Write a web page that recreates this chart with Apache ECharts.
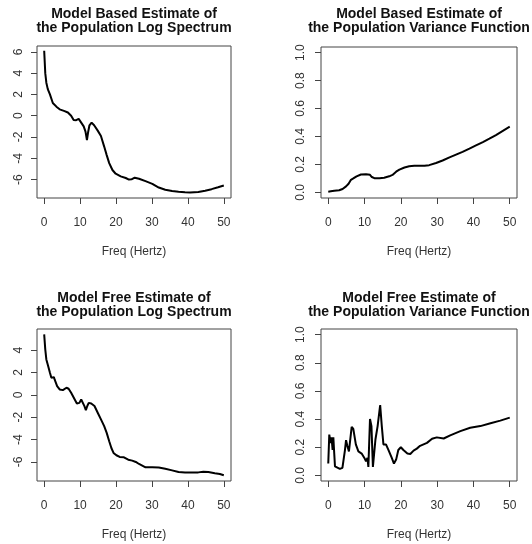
<!DOCTYPE html>
<html>
<head>
<meta charset="utf-8">
<script src="https://cdn.jsdelivr.net/npm/echarts@6/dist/echarts.min.js"></script>
<style>
  html, body { margin: 0; padding: 0; background: #fff; }
  #chart { width: 532px; height: 544px; }
</style>
</head>
<body>
<div id="chart"></div>
<script>
// 横轴刻度
const freqTicks = [0, 10, 20, 30, 40, 50]
const logTicks = [-6, -4, -2, 0, 2, 4, 6]
const varTicks = [0, 0.2, 0.4, 0.6, 0.8, 1.0]

// 左上：模型估计的对数谱
const freqModelLog = [0, 0.3, 0.6, 1.0, 1.6, 2.4, 3.4, 4.3, 5.5, 6.6, 7.5, 8.2, 8.9, 9.6, 10.3, 11.0, 11.5, 11.9, 12.2, 12.6, 13.2, 13.9, 14.9, 15.8, 16.7, 17.4, 18.1, 19.0, 19.9, 21.3, 22.7, 23.6, 24.3, 25.2, 26.4, 28.2, 30.1, 31.9, 33.7, 35.6, 37.4, 39.2, 40.6, 42.9, 44.8, 46.6, 48.4, 50]
const modelLogSpec = [6.1, 4.0, 3.1, 2.5, 2.0, 1.2, 0.85, 0.6, 0.45, 0.3, 0.0, -0.4, -0.42, -0.3, -0.65, -1.0, -1.5, -2.3, -1.6, -0.9, -0.65, -0.9, -1.4, -1.9, -2.9, -3.7, -4.45, -5.1, -5.45, -5.7, -5.85, -6.0, -5.98, -5.82, -5.92, -6.15, -6.4, -6.75, -6.95, -7.08, -7.15, -7.2, -7.22, -7.17, -7.05, -6.9, -6.72, -6.55]

// 右上：模型估计的方差函数
const freqModelVar = [0, 0.7, 1.65, 3.0, 3.95, 4.9, 5.6, 6.25, 6.9, 7.8, 9.0, 10.4, 11.5, 12.0, 12.7, 14.1, 15.4, 16.8, 17.7, 18.7, 19.6, 21.0, 22.3, 23.7, 25.1, 26.5, 27.8, 29.7, 31.5, 33.4, 35.2, 37.0, 38.9, 40.7, 42.6, 44.4, 46.2, 48.1, 50]
const modelVar = [0.005, 0.008, 0.012, 0.015, 0.024, 0.043, 0.062, 0.09, 0.10, 0.115, 0.128, 0.13, 0.126, 0.11, 0.102, 0.102, 0.105, 0.115, 0.125, 0.148, 0.163, 0.178, 0.187, 0.19, 0.19, 0.19, 0.195, 0.21, 0.228, 0.25, 0.27, 0.29, 0.313, 0.336, 0.36, 0.384, 0.41, 0.44, 0.47]

// 左下：非模型估计的对数谱
const freqFreeLog = [0, 0.3, 0.6, 1.1, 1.6, 2.0, 2.3, 2.7, 2.9, 3.6, 4.3, 5.2, 6.2, 6.8, 7.5, 8.5, 9.1, 9.8, 10.3, 10.8, 11.2, 11.6, 12.0, 12.4, 13.1, 14.0, 14.9, 15.8, 16.7, 17.4, 18.1, 18.7, 19.3, 20.1, 21.0, 22.2, 23.4, 24.5, 25.5, 26.4, 27.3, 28.2, 30.1, 31.9, 33.7, 35.6, 37.4, 39.2, 41.1, 42.9, 44.3, 45.7, 47.5, 48.9, 50]
const freeLogSpec = [5.4, 4.06, 3.16, 2.57, 1.97, 1.52, 1.46, 1.58, 1.37, 0.78, 0.48, 0.42, 0.63, 0.54, 0.18, -0.42, -0.78, -0.72, -0.42, -0.57, -1.01, -1.37, -1.0, -0.72, -0.78, -1.0, -1.6, -2.2, -2.8, -3.4, -4.15, -4.75, -5.19, -5.4, -5.55, -5.58, -5.8, -5.88, -6.0, -6.18, -6.33, -6.48, -6.48, -6.5, -6.6, -6.75, -6.9, -6.93, -6.93, -6.93, -6.87, -6.9, -7.0, -7.07, -7.19]

// 右下：非模型估计的方差函数
const freqFreeVar = [0, 0.28, 0.65, 0.9, 1.2, 1.4, 1.66, 1.85, 2.3, 3.2, 3.9, 4.6, 4.9, 5.25, 5.7, 6.45, 6.9, 7.6, 8.3, 9.2, 9.95, 10.4, 10.8, 11.05, 11.5, 11.9, 12.3, 12.7, 13.0, 13.6, 14.3, 14.75, 15.2, 15.9, 16.6, 17.5, 18.1, 18.7, 19.3, 20.0, 20.7, 21.2, 21.8, 22.6, 23.5, 24.4, 25.3, 27.2, 28.6, 29.9, 31.8, 33.6, 36.4, 39.1, 41.9, 44.7, 47.4, 50]
const freeVar = [0.084, 0.29, 0.23, 0.27, 0.18, 0.27, 0.15, 0.064, 0.053, 0.046, 0.053, 0.18, 0.25, 0.21, 0.17, 0.345, 0.33, 0.22, 0.17, 0.155, 0.124, 0.1, 0.124, 0.06, 0.4, 0.35, 0.06, 0.06, 0.255, 0.35, 0.5, 0.35, 0.22, 0.22, 0.18, 0.124, 0.084, 0.112, 0.18, 0.2, 0.18, 0.18, 0.155, 0.152, 0.176, 0.19, 0.21, 0.231, 0.26, 0.27, 0.262, 0.284, 0.314, 0.338, 0.35, 0.37, 0.389, 0.41]

const titles = [
  'Model Based Estimate of\nthe Population Log Spectrum',
  'Model Based Estimate of\nthe Population Variance Function',
  'Model Free Estimate of\nthe Population Log Spectrum',
  'Model Free Estimate of\nthe Population Variance Function'
]

const font = 'Liberation Sans, Arial, sans-serif'
const boxColor = '#444'
const textColor = '#333'

// 四个面板的位置
const panels = [
  {left: 37, top: 46, width: 194, height: 152, titleTop: 7, ymin: -7.73, ymax: 6.55, ticks: logTicks, xs: freqModelLog, ys: modelLogSpec},
  {left: 321, top: 47, width: 196, height: 151, titleTop: 7, ymin: -0.04, ymax: 1.04, ticks: varTicks, xs: freqModelVar, ys: modelVar},
  {left: 37, top: 329, width: 194, height: 152, titleTop: 291, ymin: -7.7, ymax: 5.88, ticks: logTicks.slice(0, 6), xs: freqFreeLog, ys: freeLogSpec},
  {left: 321, top: 329, width: 196, height: 152, titleTop: 291, ymin: -0.04, ymax: 1.04, ticks: varTicks, xs: freqFreeVar, ys: freeVar}
]

const zip = (xs, ys) => xs.map((x, i) => [x, ys[i]])
const isVar = p => p.ymax < 2

const chart = echarts.init(document.getElementById('chart'))

chart.setOption({
  backgroundColor: '#fff',
  animation: false,
  title: panels.map((p, i) => ({
    text: titles[i],
    left: p.left + p.width / 2,
    top: p.titleTop,
    textAlign: 'center',
    padding: 0,
    textStyle: {fontFamily: font, fontSize: 14, fontWeight: 'bold', lineHeight: 14, color: '#111'}
  })),
  grid: panels.map(p => ({
    left: p.left, top: p.top, width: p.width, height: p.height,
    show: true, borderColor: boxColor, borderWidth: 1,
    containLabel: false, outerBoundsMode: 'none'
  })),
  xAxis: panels.map((p, i) => ({
    type: 'value', gridIndex: i, min: -2, max: 52,
    name: 'Freq (Hertz)', nameLocation: 'middle', nameGap: 48,
    nameTextStyle: {fontFamily: font, fontSize: 12, color: textColor},
    axisLine: {show: false, onZero: false},
    splitLine: {show: false},
    axisTick: {show: true, length: 6, customValues: freqTicks, lineStyle: {color: boxColor}},
    axisLabel: {customValues: freqTicks, margin: 19, fontFamily: font, fontSize: 12, color: textColor}
  })),
  yAxis: panels.map((p, i) => ({
    type: 'value', gridIndex: i, min: p.ymin, max: p.ymax,
    axisLine: {show: false, onZero: false},
    splitLine: {show: false},
    axisTick: {show: true, length: 6, customValues: p.ticks, lineStyle: {color: boxColor}},
    axisLabel: {
      customValues: p.ticks, rotate: 90, margin: isVar(p) ? 14 : 12,
      fontFamily: font, fontSize: 12, color: textColor,
      formatter: v => isVar(p) ? v.toFixed(1) : String(v)
    }
  })),
  series: panels.map((p, i) => ({
    type: 'line', xAxisIndex: i, yAxisIndex: i,
    data: zip(p.xs, p.ys),
    showSymbol: false, smooth: false,
    lineStyle: {color: '#000', width: 2}
  }))
})
</script>
</body>
</html>
